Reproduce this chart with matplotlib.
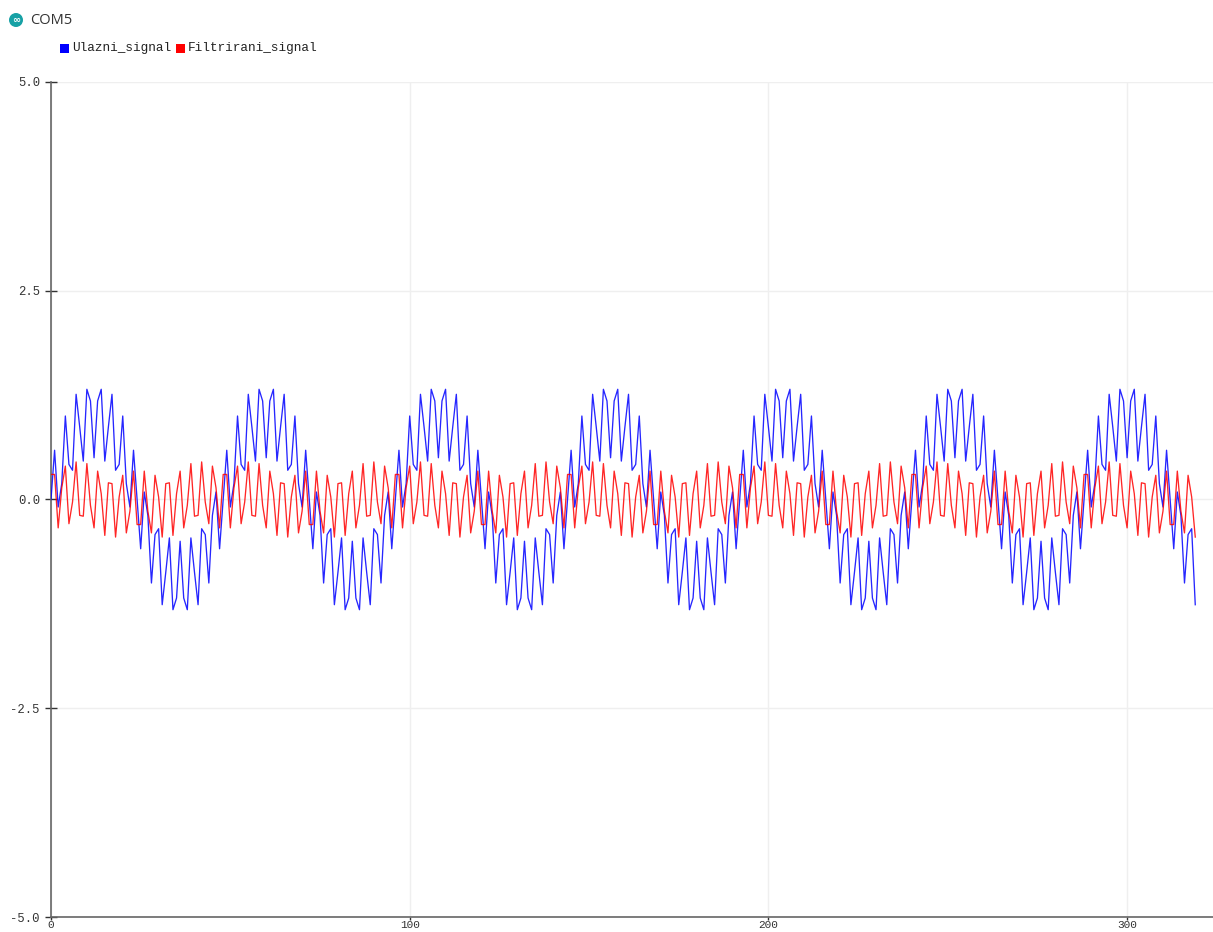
import matplotlib
matplotlib.use("Agg")
import matplotlib.pyplot as plt
from matplotlib.patches import Rectangle, Circle
import numpy as np

plt.rcParams['axes.unicode_minus'] = False

# Serial plotter data (sample values)
ulazni_signal = [
    0.00, 0.59, -0.09, 0.19, 1.00, 0.42, 0.35, 1.26, 0.87, 0.46, 1.32, 1.18, 0.50, 1.18, 1.32, 0.46,
    0.87, 1.26, 0.35, 0.42, 1.00, 0.19, -0.09, 0.59, 0.00, -0.59, 0.09, -0.19, -1.00, -0.42, -0.35, -1.26,
    -0.87, -0.46, -1.32, -1.18, -0.50, -1.18, -1.32, -0.46, -0.87, -1.26, -0.35, -0.42, -1.00, -0.19, 0.09, -0.59,
    0.00, 0.59, -0.09, 0.19, 1.00, 0.42, 0.35, 1.26, 0.87, 0.46, 1.32, 1.18, 0.50, 1.18, 1.32, 0.46,
    0.87, 1.26, 0.35, 0.42, 1.00, 0.19, -0.09, 0.59, 0.00, -0.59, 0.09, -0.19, -1.00, -0.42, -0.35, -1.26,
    -0.87, -0.46, -1.32, -1.18, -0.50, -1.18, -1.32, -0.46, -0.87, -1.26, -0.35, -0.42, -1.00, -0.19, 0.09, -0.59,
    0.00, 0.59, -0.09, 0.19, 1.00, 0.42, 0.35, 1.26, 0.87, 0.46, 1.32, 1.18, 0.50, 1.18, 1.32, 0.46,
    0.87, 1.26, 0.35, 0.42, 1.00, 0.19, -0.09, 0.59, 0.00, -0.59, 0.09, -0.19, -1.00, -0.42, -0.35, -1.26,
    -0.87, -0.46, -1.32, -1.18, -0.50, -1.18, -1.32, -0.46, -0.87, -1.26, -0.35, -0.42, -1.00, -0.19, 0.09, -0.59,
    0.00, 0.59, -0.09, 0.19, 1.00, 0.42, 0.35, 1.26, 0.87, 0.46, 1.32, 1.18, 0.50, 1.18, 1.32, 0.46,
    0.87, 1.26, 0.35, 0.42, 1.00, 0.19, -0.09, 0.59, 0.00, -0.59, 0.09, -0.19, -1.00, -0.42, -0.35, -1.26,
    -0.87, -0.46, -1.32, -1.18, -0.50, -1.18, -1.32, -0.46, -0.87, -1.26, -0.35, -0.42, -1.00, -0.19, 0.09, -0.59,
    0.00, 0.59, -0.09, 0.19, 1.00, 0.42, 0.35, 1.26, 0.87, 0.46, 1.32, 1.18, 0.50, 1.18, 1.32, 0.46,
    0.87, 1.26, 0.35, 0.42, 1.00, 0.19, -0.09, 0.59, 0.00, -0.59, 0.09, -0.19, -1.00, -0.42, -0.35, -1.26,
    -0.87, -0.46, -1.32, -1.18, -0.50, -1.18, -1.32, -0.46, -0.87, -1.26, -0.35, -0.42, -1.00, -0.19, 0.09, -0.59,
    0.00, 0.59, -0.09, 0.19, 1.00, 0.42, 0.35, 1.26, 0.87, 0.46, 1.32, 1.18, 0.50, 1.18, 1.32, 0.46,
    0.87, 1.26, 0.35, 0.42, 1.00, 0.19, -0.09, 0.59, 0.00, -0.59, 0.09, -0.19, -1.00, -0.42, -0.35, -1.26,
    -0.87, -0.46, -1.32, -1.18, -0.50, -1.18, -1.32, -0.46, -0.87, -1.26, -0.35, -0.42, -1.00, -0.19, 0.09, -0.59,
    0.00, 0.59, -0.09, 0.19, 1.00, 0.42, 0.35, 1.26, 0.87, 0.46, 1.32, 1.18, 0.50, 1.18, 1.32, 0.46,
    0.87, 1.26, 0.35, 0.42, 1.00, 0.19, -0.09, 0.59, 0.00, -0.59, 0.09, -0.19, -1.00, -0.42, -0.35, -1.26,
]

filtrirani_signal = [
    0.30, 0.30, -0.34, 0.14, 0.40, -0.29, -0.03, 0.45, -0.19, -0.20, 0.43, -0.07, -0.34, 0.34, 0.07, -0.43,
    0.20, 0.19, -0.45, 0.03, 0.29, -0.40, -0.14, 0.34, -0.30, -0.30, 0.34, -0.14, -0.40, 0.29, 0.03, -0.45,
    0.19, 0.20, -0.43, 0.07, 0.34, -0.34, -0.07, 0.43, -0.20, -0.19, 0.45, -0.03, -0.29, 0.40, 0.14, -0.34,
    0.30, 0.30, -0.34, 0.14, 0.40, -0.29, -0.03, 0.45, -0.19, -0.20, 0.43, -0.07, -0.34, 0.34, 0.07, -0.43,
    0.20, 0.19, -0.45, 0.03, 0.29, -0.40, -0.14, 0.34, -0.30, -0.30, 0.34, -0.14, -0.40, 0.29, 0.03, -0.45,
    0.19, 0.20, -0.43, 0.07, 0.34, -0.34, -0.07, 0.43, -0.20, -0.19, 0.45, -0.03, -0.29, 0.40, 0.14, -0.34,
    0.30, 0.30, -0.34, 0.14, 0.40, -0.29, -0.03, 0.45, -0.19, -0.20, 0.43, -0.07, -0.34, 0.34, 0.07, -0.43,
    0.20, 0.19, -0.45, 0.03, 0.29, -0.40, -0.14, 0.34, -0.30, -0.30, 0.34, -0.14, -0.40, 0.29, 0.03, -0.45,
    0.19, 0.20, -0.43, 0.07, 0.34, -0.34, -0.07, 0.43, -0.20, -0.19, 0.45, -0.03, -0.29, 0.40, 0.14, -0.34,
    0.30, 0.30, -0.34, 0.14, 0.40, -0.29, -0.03, 0.45, -0.19, -0.20, 0.43, -0.07, -0.34, 0.34, 0.07, -0.43,
    0.20, 0.19, -0.45, 0.03, 0.29, -0.40, -0.14, 0.34, -0.30, -0.30, 0.34, -0.14, -0.40, 0.29, 0.03, -0.45,
    0.19, 0.20, -0.43, 0.07, 0.34, -0.34, -0.07, 0.43, -0.20, -0.19, 0.45, -0.03, -0.29, 0.40, 0.14, -0.34,
    0.30, 0.30, -0.34, 0.14, 0.40, -0.29, -0.03, 0.45, -0.19, -0.20, 0.43, -0.07, -0.34, 0.34, 0.07, -0.43,
    0.20, 0.19, -0.45, 0.03, 0.29, -0.40, -0.14, 0.34, -0.30, -0.30, 0.34, -0.14, -0.40, 0.29, 0.03, -0.45,
    0.19, 0.20, -0.43, 0.07, 0.34, -0.34, -0.07, 0.43, -0.20, -0.19, 0.45, -0.03, -0.29, 0.40, 0.14, -0.34,
    0.30, 0.30, -0.34, 0.14, 0.40, -0.29, -0.03, 0.45, -0.19, -0.20, 0.43, -0.07, -0.34, 0.34, 0.07, -0.43,
    0.20, 0.19, -0.45, 0.03, 0.29, -0.40, -0.14, 0.34, -0.30, -0.30, 0.34, -0.14, -0.40, 0.29, 0.03, -0.45,
    0.19, 0.20, -0.43, 0.07, 0.34, -0.34, -0.07, 0.43, -0.20, -0.19, 0.45, -0.03, -0.29, 0.40, 0.14, -0.34,
    0.30, 0.30, -0.34, 0.14, 0.40, -0.29, -0.03, 0.45, -0.19, -0.20, 0.43, -0.07, -0.34, 0.34, 0.07, -0.43,
    0.20, 0.19, -0.45, 0.03, 0.29, -0.40, -0.14, 0.34, -0.30, -0.30, 0.34, -0.14, -0.40, 0.29, 0.03, -0.45,
]

series_names = ["Ulazni_signal", "Filtrirani_signal"]
series_colors = ["#0000ff", "#ff0000"]
y_ticks = [-5.0, -2.5, 0.0, 2.5, 5.0]
x_ticks = [0, 100, 200, 300]
port_name = "COM5"

W, H = 1213, 932
fig = plt.figure(figsize=(W / 100, H / 100), dpi=100)
fig.patch.set_facecolor("white")

def fx(px):
    return px / W

def fy(py):
    return 1 - py / H

ax = fig.add_axes([fx(51), fy(917), fx(1213) - fx(51), fy(82) - fy(917)])
x = np.arange(len(ulazni_signal))
ax.plot(x, ulazni_signal, color=series_colors[0], lw=0.95, alpha=0.85, zorder=3)
ax.plot(np.arange(len(filtrirani_signal)), filtrirani_signal, color=series_colors[1], lw=0.95, alpha=0.85, zorder=4)

ax.set_xlim(0, (1213 - 51) / 3.587)
ax.set_ylim(-5, 5)
ax.set_yticks(y_ticks)
ax.set_yticklabels([f"{v:.1f}" for v in y_ticks])
ax.set_xticks(x_ticks)
ax.set_xticklabels([str(v) for v in x_ticks])

ax.grid(True, color="#efefef", lw=1.0, zorder=0)
ax.set_axisbelow(True)
for s in ["top", "right"]:
    ax.spines[s].set_visible(False)
for s in ["left", "bottom"]:
    ax.spines[s].set_color("#666666")
    ax.spines[s].set_linewidth(1.2)

mono = "Liberation Mono"
ax.tick_params(axis="y", direction="inout", length=8, width=1, color="#333333",
               labelsize=8.8, labelcolor="#333333", pad=4)
ax.tick_params(axis="x", direction="out", length=2, width=1, color="#333333",
               labelsize=8.0, labelcolor="#333333", pad=0)
for lbl in ax.get_xticklabels() + ax.get_yticklabels():
    lbl.set_fontfamily(mono)

# header: logo + port name
fig.patches.append(Circle((16, H - 20), 7, transform=None, facecolor="#17a1a5",
                          edgecolor="none", figure=fig))
fig.text(fx(16), fy(20.5), "\u221e", color="white", fontsize=7, ha="center", va="center",
         family="DejaVu Sans", fontweight="bold")
fig.text(fx(30), fy(20.5), port_name, fontsize=10.5, color="#333333", ha="left", va="center",
         family="Open Sans")

# legend
leg_x = [60, 176]
txt_x = [72, 188]
for name, col, sx, tx in zip(series_names, series_colors, leg_x, txt_x):
    fig.patches.append(Rectangle((fx(sx), fy(53)), fx(9), 9 / H, transform=fig.transFigure,
                                 facecolor=col, edgecolor="none", figure=fig))
    fig.text(fx(tx), fy(48.5), name, fontsize=9.2, color="#222222", ha="left", va="center",
             family=mono)

fig.savefig("out.png", dpi=100, facecolor="white")
